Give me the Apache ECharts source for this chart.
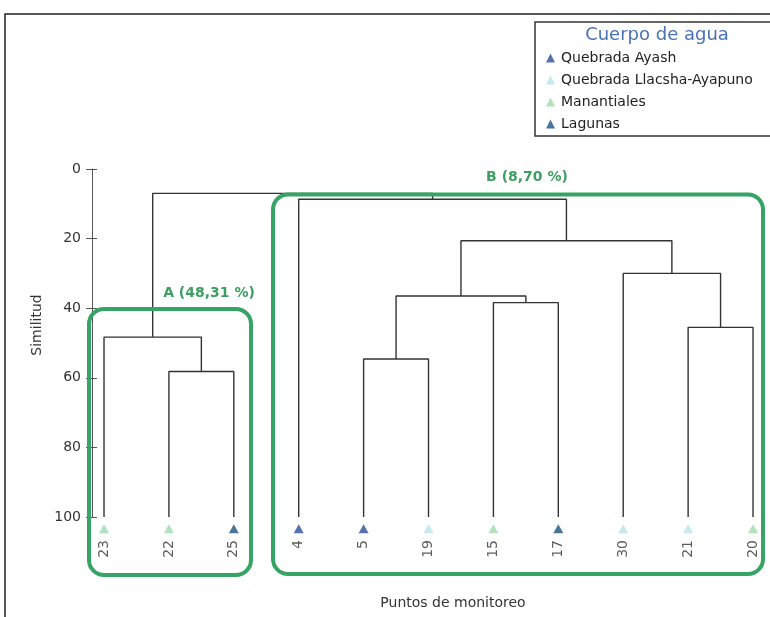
<!DOCTYPE html>
<html lang="es">
<head>
<meta charset="utf-8" />
<script src="https://cdn.jsdelivr.net/npm/echarts@6/dist/echarts.min.js"></script>
<title>dendrograma</title>
</head>
<body style="margin:0">
<div id="main" style="width:770px;height:617px;"></div>
<script type="text/javascript">
let leaves = ['23', '22', '25', '4', '5', '19', '15', '17', '30', '21', '20'];
let leafGroup = ['Manantiales', 'Manantiales', 'Lagunas', 'Quebrada Ayash', 'Quebrada Ayash',
    'Quebrada Llacsha-Ayapuno', 'Manantiales', 'Lagunas', 'Quebrada Llacsha-Ayapuno',
    'Quebrada Llacsha-Ayapuno', 'Manantiales'];
let groups = ['Quebrada Ayash', 'Quebrada Llacsha-Ayapuno', 'Manantiales', 'Lagunas'];
let groupColors = ['#2d4c9e', '#b6e3ee', '#9fd9ad', '#1c527f'];
// [nodo izq, nodo der, similitud]; nodos 0..10 = hojas, 11+ = grupos
let merges = [
    [1, 2, 58.2],
    [0, 11, 48.31],
    [4, 5, 54.6],
    [6, 7, 38.4],
    [13, 14, 36.5],
    [9, 10, 45.5],
    [8, 16, 30.0],
    [15, 17, 20.6],
    [3, 18, 8.70],
    [12, 19, 7.0]
];
let yTicks = [0, 20, 40, 60, 80, 100];

let font = 'DejaVu Sans, Verdana, sans-serif';
let myChart = echarts.init(document.getElementById('main'));

let pos = leaves.map(function (d, i) { return i; });
let hgt = leaves.map(function () { return 100; });
let series = [];
merges.forEach(function (m) {
    let a = m[0], b = m[1], s = m[2];
    series.push({
        type: 'line',
        silent: true,
        showSymbol: false,
        animation: false,
        lineStyle: { color: '#333', width: 1.4 },
        data: [[pos[a], hgt[a]], [pos[a], s], [pos[b], s], [pos[b], hgt[b]]]
    });
    pos.push((pos[a] + pos[b]) / 2);
    hgt.push(s);
});

groups.forEach(function (g, k) {
    let pts = [];
    leaves.forEach(function (l, i) {
        if (leafGroup[i] === g) pts.push([i, 103.4]);
    });
    series.push({
        name: g,
        type: 'scatter',
        clip: false,
        symbol: 'triangle',
        symbolSize: [10, 9],
        itemStyle: { color: groupColors[k] },
        data: pts
    });
});

series.push({
    type: 'scatter',
    clip: false,
    silent: true,
    symbolSize: 0,
    data: leaves.map(function (l, i) { return [i, 106.6, l]; }),
    label: {
        show: true,
        position: 'inside',
        rotate: 90,
        align: 'right',
        verticalAlign: 'middle',
        fontSize: 14,
        fontFamily: font,
        color: '#333',
        formatter: function (p) { return p.value[2]; }
    }
});

let green = '#36a464';
option = {
    animation: false,
    backgroundColor: '#fff',
    grid: { left: 92, right: 4, top: 169, bottom: 100 },
    xAxis: { type: 'value', min: -0.185, max: 10.2, show: false },
    yAxis: [{
        type: 'value', inverse: true, min: yTicks[0], max: yTicks[yTicks.length - 1], interval: 20,
        axisLine: { show: true, onZero: false, lineStyle: { color: '#555', width: 1 } },
        axisTick: { show: true, length: 6, lineStyle: { color: '#555' } },
        axisLabel: { fontSize: 14, color: '#333', fontFamily: font, margin: 11 },
        splitLine: { show: false }
    }, {
        type: 'value', inverse: true, min: 0, max: 100, interval: 20, position: 'left',
        axisLine: { show: false, onZero: false },
        axisTick: { show: true, inside: true, length: 5, lineStyle: { color: '#555' } },
        axisLabel: { show: false },
        splitLine: { show: false }
    }],
    legend: {
        data: groups,
        orient: 'vertical',
        left: 541, top: 46,
        itemWidth: 9, itemHeight: 9, itemGap: 8,
        icon: 'triangle',
        textStyle: { fontSize: 14, lineHeight: 14, color: '#222', fontFamily: font, padding: [0, 0, 0, 1] }
    },
    graphic: [
        { type: 'rect', z: 100, shape: { x: 5, y: 14, width: 800, height: 700 },
          style: { fill: 'none', stroke: '#222', lineWidth: 1.5 } },
        { type: 'rect', z: 100, shape: { x: 535, y: 22, width: 250, height: 114 },
          style: { fill: 'none', stroke: '#333', lineWidth: 1.5 } },
        { type: 'text', z: 100, x: 657, y: 35,
          style: { text: 'Cuerpo de agua', fill: '#4a70b5', font: '18px ' + font, align: 'center', verticalAlign: 'middle' } },
        { type: 'rect', z: 100, shape: { x: 89, y: 309, width: 162, height: 266, r: 15 },
          style: { fill: 'none', stroke: green, lineWidth: 4 } },
        { type: 'rect', z: 100, shape: { x: 273, y: 194.5, width: 490, height: 379.5, r: 15 },
          style: { fill: 'none', stroke: green, lineWidth: 4 } },
        { type: 'text', z: 100, x: 209, y: 293,
          style: { text: 'A (48,31 %)', fill: '#3c9e60', font: 'bold 14px ' + font, align: 'center', verticalAlign: 'middle' } },
        { type: 'text', z: 100, x: 527, y: 177,
          style: { text: 'B (8,70 %)', fill: '#3c9e60', font: 'bold 14px ' + font, align: 'center', verticalAlign: 'middle' } },
        { type: 'text', z: 100, x: 453, y: 603,
          style: { text: 'Puntos de monitoreo', fill: '#333', font: '14px ' + font, align: 'center', verticalAlign: 'middle' } },
        { type: 'text', z: 100, x: 37, y: 325, rotation: Math.PI / 2,
          style: { text: 'Similitud', fill: '#333', font: '14px ' + font, align: 'center', verticalAlign: 'middle' } }
    ],
    series: series
};
myChart.setOption(option);
</script>
</body>
</html>
